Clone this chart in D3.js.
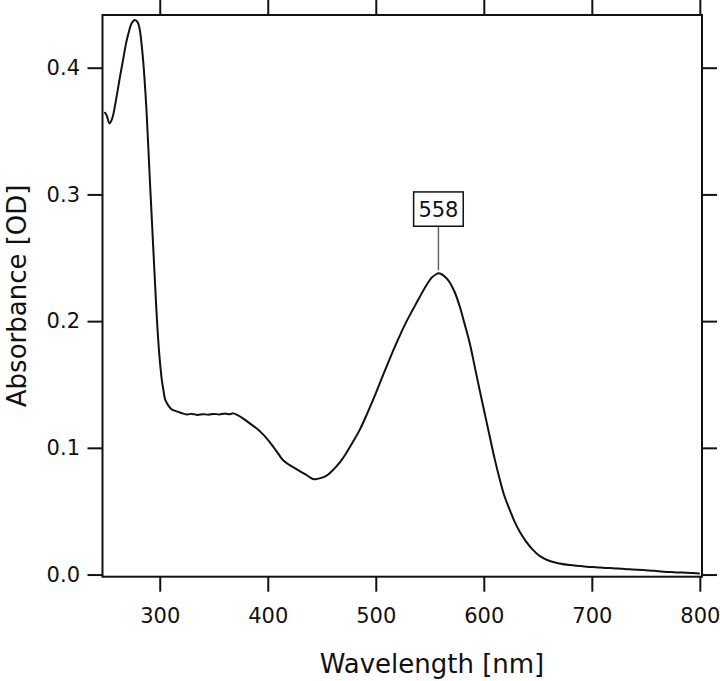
<!DOCTYPE html>
<html>
<head>
<meta charset="utf-8">
<script src="https://cdn.jsdelivr.net/npm/d3@7"></script>
<style>
    html, body { margin: 0; padding: 0; background: #fff; }
    svg { display: block; }
    text { font-family: "DejaVu Sans", Verdana, sans-serif; fill: #111; }
</style>
</head>
<body>
<div id="chart"></div>
<script>
// Absorbance spectrum, values
const wavelengths = [
    249, 251, 253.5, 256, 260, 263, 266, 269, 271, 274, 277, 279.5, 281.5, 283, 284.6, 286, 287.7,
    290.7, 293.8, 296.9, 299, 300.5, 302, 303.5, 305, 307.5, 310.8, 315, 320, 325, 330, 335, 340,
    345, 350, 355, 360, 365, 368, 372, 377, 383, 389.5, 394, 399, 405, 410, 414, 420, 425, 430,
    435, 440, 443, 446, 451, 456, 461, 466.7, 472, 478, 485, 492, 500, 507, 513, 518, 523, 528,
    534.6, 540, 547, 552, 556, 558, 561, 565, 568.5, 573, 577.8, 582, 587, 591.5, 596.3, 601,
    605.6, 610, 614.8, 619, 624.1, 628.5, 633.3, 639, 645.7, 652, 661, 670, 679.6, 690, 697, 704,
    712, 720, 728, 735, 742, 750, 758, 766, 773, 780, 787, 794, 800
];
const absorbance = [
    0.365, 0.362, 0.356, 0.360, 0.377, 0.392, 0.406, 0.420, 0.427, 0.435, 0.4377, 0.436, 0.430, 0.420, 0.406, 0.390, 0.367,
    0.314, 0.261, 0.209, 0.180, 0.165, 0.153, 0.145, 0.138, 0.134, 0.1305, 0.1290, 0.1275, 0.1264, 0.1268, 0.1260, 0.1266,
    0.1262, 0.1268, 0.1264, 0.1270, 0.1266, 0.1272, 0.1258, 0.1233, 0.1195, 0.1154, 0.1120, 0.1075, 0.1010, 0.0950, 0.0904, 0.0865, 0.0840, 0.0815,
    0.0790, 0.0762, 0.0752, 0.0755, 0.0767, 0.0790, 0.0830, 0.0885, 0.0950, 0.1035, 0.1140, 0.1270, 0.1430, 0.1580, 0.1705, 0.1805, 0.1900, 0.1990,
    0.2095, 0.2180, 0.2285, 0.2345, 0.2370, 0.2378, 0.2370, 0.2342, 0.2305, 0.2230, 0.2114, 0.1985, 0.1825, 0.1645, 0.1450, 0.1265,
    0.1085, 0.0915, 0.0750, 0.0622, 0.0509, 0.0418, 0.0338, 0.0262, 0.0193, 0.0145, 0.0107, 0.0088, 0.0075, 0.0067, 0.0060, 0.0058,
    0.0052, 0.0050, 0.0045, 0.0041, 0.0038, 0.0034, 0.0030, 0.0022, 0.0020, 0.0016, 0.0015, 0.0012, 0.0009
];
const xTicks = [300, 400, 500, 600, 700, 800];
const yTicks = [0.0, 0.1, 0.2, 0.3, 0.4];
const peakLabel = 558;

const width = 720, height = 681;
const margin = { top: 15, right: 18, bottom: 104.3, left: 102.5 };
const innerW = width - margin.left - margin.right;
const innerH = height - margin.top - margin.bottom;

const svg = d3.select("#chart")
    .append("svg")
    .attr("width", width)
    .attr("height", height);

const g = svg.append("g")
    .attr("transform", `translate(${margin.left},${margin.top})`);

const x = d3.scaleLinear().domain([247, 802]).range([0, innerW]);
const y = d3.scaleLinear().domain([-0.0017, 0.4416]).range([innerH, 0]);

const fmt = d3.format(".1f");

// Axes (ticks outside on all four sides, labels only bottom/left)
const styleAxis = sel => {
    sel.select(".domain").remove();
    sel.selectAll(".tick line").attr("stroke", "#111").attr("stroke-width", 2);
    sel.selectAll("text").style("font-size", "21px").attr("fill", "#111");
};

g.append("g")
    .attr("transform", `translate(0,${innerH})`)
    .call(d3.axisBottom(x).tickValues(xTicks).tickSize(15).tickPadding(16.5).tickFormat(d3.format("d")))
    .call(styleAxis);

g.append("g")
    .call(d3.axisTop(x).tickValues(xTicks).tickSize(15).tickFormat(""))
    .call(styleAxis);

g.append("g")
    .call(d3.axisLeft(y).tickValues(yTicks).tickSize(15).tickPadding(7.5).tickFormat(fmt))
    .call(styleAxis);

g.append("g")
    .attr("transform", `translate(${innerW},0)`)
    .call(d3.axisRight(y).tickValues(yTicks).tickSize(15).tickFormat(""))
    .call(styleAxis);

// Frame
g.append("rect")
    .attr("x", 0)
    .attr("y", 0)
    .attr("width", innerW)
    .attr("height", innerH)
    .attr("fill", "none")
    .attr("stroke", "#111")
    .attr("stroke-width", 2);

// Spectrum
const data = wavelengths.map((w, i) => ({ w, a: absorbance[i] }));

g.append("path")
    .datum(data)
    .attr("fill", "none")
    .attr("stroke", "#111")
    .attr("stroke-width", 2)
    .attr("stroke-linejoin", "round")
    .attr("d", d3.line()
        .x(d => x(d.w))
        .y(d => y(d.a))
        .curve(d3.curveCatmullRom));

// Peak annotation
const peak = data.find(d => d.w === peakLabel);
const px = x(peak.w);
const py = y(peak.a);
const boxW = 49.6, boxH = 34.3;

g.append("line")
    .attr("x1", px)
    .attr("x2", px)
    .attr("y1", py - 3)
    .attr("y2", py - 47)
    .attr("stroke", "#666")
    .attr("stroke-width", 1.5);

g.append("rect")
    .attr("x", px - boxW / 2)
    .attr("y", py - 47 - boxH)
    .attr("width", boxW)
    .attr("height", boxH)
    .attr("fill", "#fff")
    .attr("stroke", "#111")
    .attr("stroke-width", 1.5);

g.append("text")
    .attr("x", px)
    .attr("y", py - 47 - boxH / 2)
    .attr("dy", "0.36em")
    .attr("text-anchor", "middle")
    .style("font-size", "21px")
    .text(peakLabel);

// Axis titles
svg.append("text")
    .attr("x", margin.left + x(552))
    .attr("y", 673)
    .attr("text-anchor", "middle")
    .style("font-size", "26px")
    .text("Wavelength [nm]");

svg.append("text")
    .attr("transform", `translate(26,${margin.top + innerH / 2}) rotate(-90)`)
    .attr("text-anchor", "middle")
    .style("font-size", "26px")
    .text("Absorbance [OD]");
</script>
</body>
</html>
